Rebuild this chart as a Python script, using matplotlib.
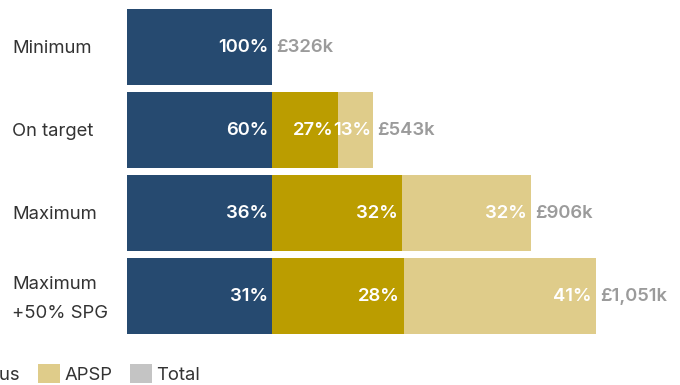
import matplotlib
matplotlib.use("Agg")
import matplotlib.pyplot as plt
from matplotlib.patches import Patch

plt.rcParams['font.family'] = ['Inter', 'DejaVu Sans']

categories = ["Minimum", "On target", "Maximum", "Maximum\n+50% SPG"]
fixed_pay = [326, 326, 326, 326]
bonus = [0, 146, 290, 294]
apsp = [0, 80, 290, 431]
fixed_pct = [100, 60, 36, 31]
bonus_pct = [None, 27, 32, 28]
apsp_pct = [None, 13, 32, 41]
total_labels = ["£326k", "£543k", "£906k", "£1,051k"]
series_names = ["Fixed pay", "Bonus", "APSP", "Total"]

colors = {"Fixed pay": "#264a70", "Bonus": "#bb9d00", "APSP": "#dfcc8a", "Total": "#c4c4c4"}

fig = plt.figure(figsize=(6.8, 3.85), dpi=100)
ax = fig.add_axes([127/680, 45/385, 553/680, 340/385])

FS = 13.3
y = list(range(len(categories)))
h = 0.92
left = [0]*len(categories)
for name, vals, pcts in zip(series_names[:3], [fixed_pay, bonus, apsp],
                            [fixed_pct, bonus_pct, apsp_pct]):
    ax.barh(y, vals, left=left, height=h, color=colors[name], linewidth=0)
    for i, v in enumerate(vals):
        if v > 0 and pcts[i] is not None:
            pad = 4 if pcts[i] == 13 else 9
            ax.text(left[i] + v - pad, y[i] + 0.01, f"{pcts[i]}%", ha='right', va='center',
                    color='white', fontsize=FS, fontweight='semibold')
    left = [l + v for l, v in zip(left, vals)]

for i, t in enumerate(left):
    ax.text(t + 9, y[i] + 0.01, total_labels[i], ha='left', va='center', color='#9b9b9b',
            fontsize=FS, fontweight='semibold')

for i, c in enumerate(categories):
    off = 1.5 if "\n" in c else 0
    fig.text(12/680, 1 - (48.5 + off + 83*i)/385, c, ha='left', va='center', fontsize=FS,
             color='#333333', linespacing=1.85)

ax.set_xlim(0, 553/0.446)
ax.set_ylim(3.53, -0.566)
ax.axis('off')

handles = [Patch(facecolor=colors[n], edgecolor='none') for n in series_names]
fig.legend(handles, series_names, ncol=4, loc='lower left',
           bbox_to_anchor=(-189/680, 0.003), frameon=False, fontsize=FS,
           handlelength=1.2, handleheight=1.25, handletextpad=0.22,
           columnspacing=0.95, labelcolor='#333333', borderaxespad=0, borderpad=0)

fig.savefig("out.png", dpi=100)
